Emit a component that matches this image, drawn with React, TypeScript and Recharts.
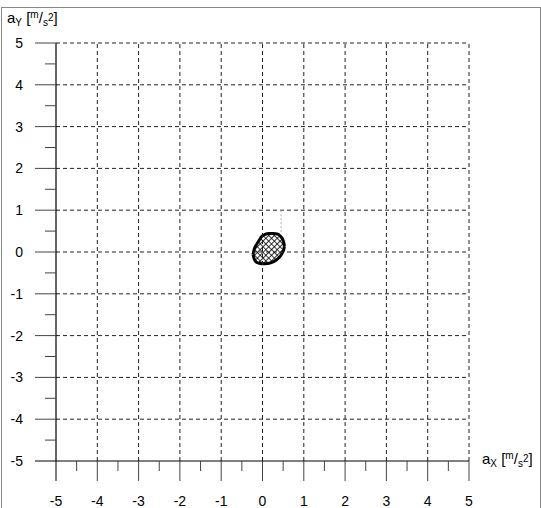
import React from "react";
import { ComposedChart, Area, XAxis, YAxis, ReferenceLine } from "recharts";

// blob outline (range area: lower and upper edge at each x)
const blobX = [-0.23, -0.2, -0.15, -0.08, -0.02, 0.06, 0.16, 0.27, 0.36, 0.44, 0.49, 0.52, 0.53];
const blobLow = [-0.06, -0.17, -0.24, -0.27, -0.28, -0.28, -0.27, -0.23, -0.17, -0.09, 0.0, 0.08, 0.14];
const blobHigh = [-0.06, 0.07, 0.17, 0.28, 0.37, 0.42, 0.44, 0.44, 0.43, 0.37, 0.3, 0.2, 0.14];

// dotted marker line
const markerX = 0.45;
const markerFrom = 1.0;
const markerTo = 0.43;

const allTicks = [-5, -4.5, -4, -3.5, -3, -2.5, -2, -1.5, -1, -0.5, 0, 0.5, 1, 1.5, 2, 2.5, 3, 3.5, 4, 4.5, 5];
const gridValues = [-4, -3, -2, -1, 0, 1, 2, 3, 4, 5];

const data = blobX.map((x, i) => ({ x, range: [blobLow[i], blobHigh[i]] }));

const FONT = "'Liberation Sans', Arial, sans-serif";

function XTick({ x, y, payload }: any) {
  const v = payload.value;
  const major = Number.isInteger(v);
  return (
    <g>
      <line x1={x} x2={x} y1={y} y2={y + (major ? 20 : 10)} stroke={v === -5 ? "#000" : "#444"} strokeWidth={1} />
      {major && (
        <text x={x} y={y + 45} textAnchor="middle" fontFamily={FONT} fontSize={14} fill="#000">
          {v}
        </text>
      )}
    </g>
  );
}

function YTick({ x, y, payload }: any) {
  const v = payload.value;
  const major = Number.isInteger(v);
  return (
    <g>
      <line x1={x - (major ? 21 : 11)} x2={x} y1={y} y2={y} stroke={v === -5 ? "#000" : "#444"} strokeWidth={1} />
      {major && (
        <text x={x - 33} y={y + 5} textAnchor="end" fontFamily={FONT} fontSize={14} fill="#000">
          {v}
        </text>
      )}
    </g>
  );
}

function UnitTitle({ sub }: { sub: string }) {
  const small = { fontSize: 10 };
  return (
    <span style={{ fontFamily: FONT, fontSize: 15, whiteSpace: "nowrap" }}>
      a<span style={{ ...small, position: "relative", top: 3 }}>{sub}</span>
      {" ["}
      <span style={{ ...small, position: "relative", top: -5 }}>m</span>/
      <span style={{ ...small, position: "relative", top: 3 }}>s</span>
      <span style={{ ...small, position: "relative", top: -2 }}>2</span>]
    </span>
  );
}

export default function App() {
  return (
    <div style={{ position: "absolute", left: 0, top: 0, width: 541, height: 508, background: "#fff", overflow: "hidden" }}>
      <div
        style={{
          position: "absolute",
          left: 1,
          top: 7,
          width: 538,
          height: 520,
          borderLeft: "1px solid #888",
          borderTop: "1px solid #888",
          borderRight: "1px solid #888",
        }}
      />
      <div style={{ position: "absolute", left: 7, top: 9 }}>
        <UnitTitle sub="Y" />
      </div>
      <div style={{ position: "absolute", left: 482, top: 450 }}>
        <UnitTitle sub="X" />
      </div>
      <div style={{ position: "absolute", left: 0, top: 0 }}>
        <ComposedChart width={541} height={508} data={data} margin={{ top: 43, right: 72, left: 0, bottom: 0 }}>
          <defs>
            <pattern id="hatch" width="4" height="4" patternUnits="userSpaceOnUse" patternTransform="rotate(45)">
              <rect width="4" height="4" fill="#fff" />
              <path d="M0 0 L4 0 M0 0 L0 4" stroke="#000" strokeWidth={1.6} />
            </pattern>
          </defs>
          <XAxis
            dataKey="x"
            type="number"
            domain={[-5, 5]}
            ticks={allTicks}
            interval={0}
            tickSize={0}
            tickMargin={0}
            tickLine={false}
            tick={<XTick />}
            height={47}
            axisLine={{ stroke: "#000", strokeWidth: 1.2 }}
            allowDataOverflow
          />
          <YAxis
            type="number"
            domain={[-5, 5]}
            ticks={allTicks}
            interval={0}
            tickSize={0}
            tickMargin={0}
            tickLine={false}
            tick={<YTick />}
            width={56}
            axisLine={{ stroke: "#000", strokeWidth: 1.2 }}
            allowDataOverflow
          />
          {gridValues.map((v) => (
            <ReferenceLine key={"gx" + v} x={v} stroke="#222" strokeDasharray="4 3" />
          ))}
          {gridValues.map((v) => (
            <ReferenceLine key={"gy" + v} y={v} stroke="#222" strokeDasharray="4 3" />
          ))}
          <ReferenceLine
            segment={[
              { x: markerX, y: markerFrom },
              { x: markerX, y: markerTo },
            ]}
            stroke="#aaa"
            strokeDasharray="2 2"
          />
          <Area
            type="monotone"
            dataKey="range"
            stroke="#000"
            strokeWidth={3}
            fill="url(#hatch)"
            fillOpacity={1}
            dot={false}
            activeDot={false}
            isAnimationActive={false}
          />
        </ComposedChart>
      </div>
    </div>
  );
}
